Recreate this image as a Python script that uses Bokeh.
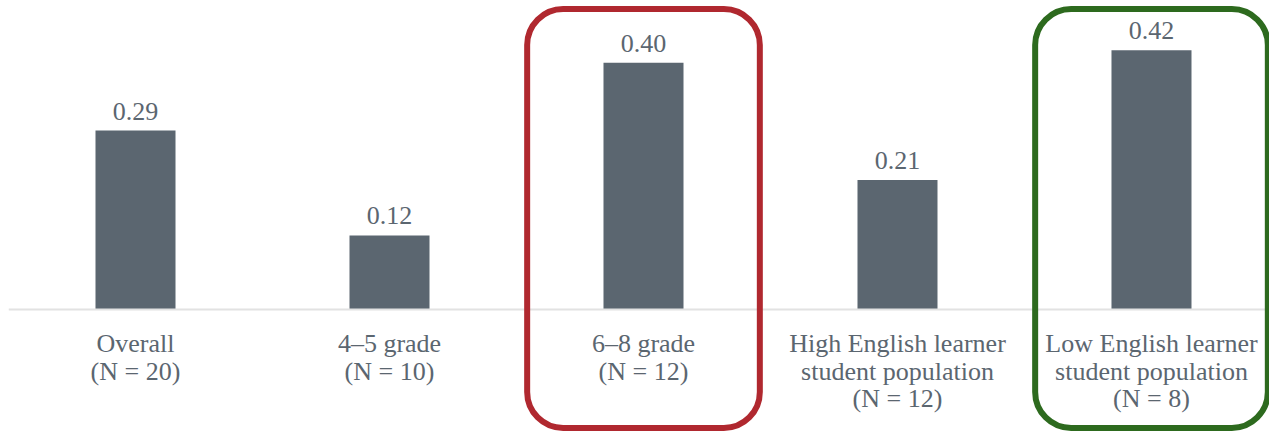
from bokeh.plotting import figure
from bokeh.models import ColumnDataSource, Range1d, Span, BoxAnnotation
from bokeh.core.properties import value
from bokeh.embed import file_html
from bokeh.resources import INLINE

categories = ["Overall", "4\u20135 grade", "6\u20138 grade",
              "High English learner\nstudent population",
              "Low English learner\nstudent population"]
n_counts = [20, 10, 12, 12, 8]
values = [0.29, 0.12, 0.40, 0.21, 0.42]
highlights = {2: "#b0282f", 4: "#2d6a1e"}

BAR = "#5b6670"
TXT = "#5b6670"
FONT = "Liberation Serif"

x = list(range(len(categories)))
labels = [f"{c}\n(N = {n})" for c, n in zip(categories, n_counts)]
src = ColumnDataSource(dict(x=x, v=values, vl=[f"{v:.2f}" for v in values],
                            lab=labels, ly=[-0.032] * len(x)))

p = figure(width=1269, height=432, output_backend="svg", toolbar_location=None,
           x_range=Range1d(-0.5, 4.4646), y_range=Range1d(-0.1994, 0.5008),
           min_border_left=8, min_border_right=0, min_border_top=0, min_border_bottom=0)
p.axis.visible = False
p.grid.visible = False
p.outline_line_color = None
p.background_fill_color = "white"

p.add_layout(Span(location=0, dimension="width", line_color="#e2e2e2", line_width=2))

p.vbar(x="x", top="v", bottom=0, width=0.315, source=src, color=BAR, line_color=None)

p.text(x="x", y="v", text="vl", source=src, text_align="center", text_baseline="bottom",
       y_offset=-11, text_font=value(FONT), text_font_size="26px", text_color=TXT)

p.text(x="x", y="ly", text="lab", source=src, text_align="center", text_baseline="top",
       text_font=value(FONT), text_font_size="26px", text_color=TXT, text_line_height=0.95)

for i, col in highlights.items():
    p.add_layout(BoxAnnotation(left=i - 0.458, right=i + 0.458, top=0.487, bottom=-0.192,
                               fill_color=None, fill_alpha=0, line_color=col, line_alpha=1,
                               line_width=6, border_radius=36))

open("out.html", "w").write(file_html(p, INLINE))
